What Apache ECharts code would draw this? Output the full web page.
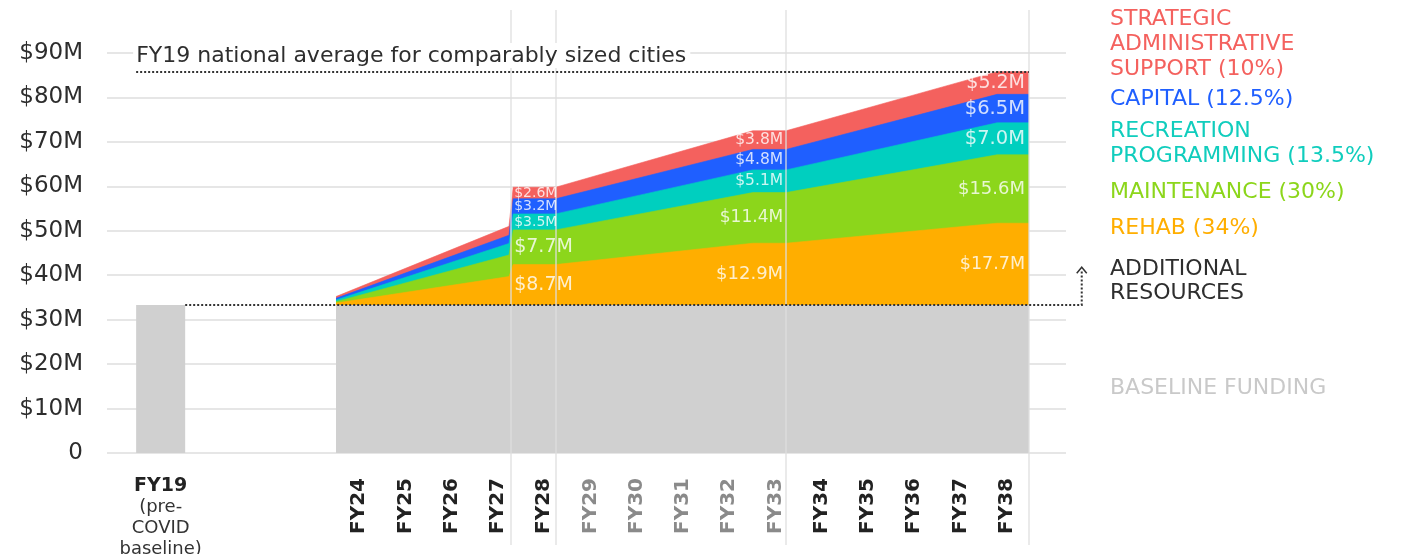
<!DOCTYPE html>
<html><head><meta charset="utf-8">
<script src="https://cdn.jsdelivr.net/npm/echarts@6/dist/echarts.min.js"></script>
<style>html,body{margin:0;padding:0;background:#fff}#c{width:1402px;height:554px}</style>
</head><body><div id="c"></div>
<script>
// ---------- DATA ----------
// vertex positions on the fiscal-year scale
const xPoints     = [23.5, 27.24, 27.33, 28.25, 32.51, 33.23, 37.79, 38.48];
const baseline    = [33.3, 33.3, 33.3, 33.3, 33.3, 33.3, 33.3, 33.3];
const rehab       = [0.45, 6.4, 9.1, 9.1, 13.9, 13.9, 18.4, 18.4];
const maintenance = [0.3, 4.85, 7.8, 7.8, 11.4, 11.4, 15.4, 15.4];
const recreation  = [0.35, 2.6, 3.6, 3.6, 5.1, 5.1, 7.2, 7.2];
const capital     = [0.4, 1.85, 3.4, 3.4, 4.6, 4.6, 6.4, 6.4];
const strategic   = [0.4, 2.0, 2.6, 2.6, 4.2, 4.2, 5.1, 5.1];

const fy19X = [19.18, 20.24];
const fy19Value = 33.3;
const fy19Label = ['FY19', '(pre-', 'COVID', 'baseline)'];
const nationalAverage = 85.7;
const nationalAverageRange = [19.18, 38.48];
const nationalAverageText = 'FY19 national average for comparably sized cities';
const dividerX = [27.28, 28.25, 33.23, 38.48];

const fyLabels = ['FY24','FY25','FY26','FY27','FY28','FY29','FY30','FY31','FY32','FY33','FY34','FY35','FY36','FY37','FY38'];
const fyGrey = ['FY29','FY30','FY31','FY32','FY33'];
const yTickLabels = ['0','$10M','$20M','$30M','$40M','$50M','$60M','$70M','$80M','$90M'];

// value labels (bottom to top: rehab, maintenance, recreation, capital, strategic)
const labelsFY28 = [8.7, 7.7, 3.5, 3.2, 2.6];
const labelsFY33 = [12.9, 11.4, 5.1, 4.8, 3.8];
const labelsFY38 = [17.7, 15.6, 7.0, 6.5, 5.2];

const legendItems = [
  'STRATEGIC\nADMINISTRATIVE\nSUPPORT (10%)',
  'CAPITAL (12.5%)',
  'RECREATION\nPROGRAMMING (13.5%)',
  'MAINTENANCE (30%)',
  'REHAB (34%)',
  'ADDITIONAL\nRESOURCES',
  'BASELINE FUNDING'
];

// ---------- STYLE ----------
const FONT = '"DejaVu Sans", sans-serif';
const layers = [rehab, maintenance, recreation, capital, strategic];
const layerNames = ['Rehab','Maintenance','Recreation programming','Capital','Strategic administrative support'];
const layerColors = ['#ffae00','#8cd61b','#00cfbf','#1f5fff','#f4615e'];
const grey = '#d0d0d0';
const legendColors = ['#f4615e','#1f5fff','#10cdbd','#8cd61b','#ffae00','#2e2e2e','#c9c9c9'];
const legendTops = [7, 87, 119, 180, 216, 257, 376];
const X_MIN = 18.55, X_MAX = 39.28;

// cumulative stacks
const cum = [];
layers.forEach((arr, k) => {
  cum.push(arr.map((v, i) => (k === 0 ? baseline[i] : cum[k-1][i]) + v));
});
const pts = arr => xPoints.map((x, i) => [x, arr[i]]);
function bandMid(i, k) { const lo = k === 0 ? baseline[i] : cum[k-1][i]; return (lo + cum[k][i]) / 2; }

const chart = echarts.init(document.getElementById('c'), null, {renderer: 'canvas'});

const series = [];
// areas painted from the tallest cumulative band down, filled down to the baseline level
for (let k = layers.length - 1; k >= 0; k--) {
  series.push({type: 'line', name: layerNames[k], data: pts(cum[k]), symbol: 'none',
    lineStyle: {width: 0.6, color: layerColors[k]}, areaStyle: {color: layerColors[k], opacity: 1, origin: baseline[0]},
    z: 2, silent: true, animation: false});
}
series.push({type: 'line', name: 'Baseline funding', data: pts(baseline), symbol: 'none',
  lineStyle: {width: 0}, areaStyle: {color: grey, opacity: 1}, z: 2, silent: true, animation: false});
series.push({type: 'line', name: 'FY19', data: fy19X.map(x => [x, fy19Value]), symbol: 'none',
  lineStyle: {width: 0}, areaStyle: {color: grey, opacity: 1}, z: 2, silent: true, animation: false});

// column dividers (taller grid)
series.push({type: 'line', xAxisIndex: 2, yAxisIndex: 1, data: [], z: 3, silent: true, animation: false,
  markLine: {silent: true, symbol: ['none','none'], label: {show: false}, animation: false,
    lineStyle: {color: 'rgba(222,222,222,0.85)', width: 1.5, type: 'solid'},
    data: dividerX.map(x => ({xAxis: x}))}});

// national average
series.push({type: 'line', data: [], z: 5, silent: true, animation: false,
  markLine: {silent: true, symbol: ['none','none'], animation: false,
    lineStyle: {color: '#333', width: 2, type: [2, 2]},
    label: {show: true, position: 'insideStartTop', formatter: nationalAverageText, color: '#2e2e2e',
      fontFamily: FONT, fontSize: 22, backgroundColor: '#fff', padding: [2, 4, 1, 3], distance: [-3, 4]},
    data: [[{coord: [nationalAverageRange[0], nationalAverage]}, {coord: [nationalAverageRange[1], nationalAverage]}]]}});

// value labels
const labelColumns = [
  {idx: 2, values: labelsFY28, pos: 'right', dist: 1, sizes: [19, 19, 14, 14, 14]},
  {idx: 5, values: labelsFY33, pos: 'left', dist: 3, sizes: [18, 17, 15.5, 15.5, 15.5]},
  {idx: 7, values: labelsFY38, pos: 'left', dist: 4, sizes: [17.5, 18, 19.5, 19.5, 19]}
];
labelColumns.forEach(col => {
  series.push({type: 'scatter', symbolSize: 0, z: 6, silent: true, animation: false,
    data: col.values.map((v, k) => ({value: [xPoints[col.idx], bandMid(col.idx, k)], name: '$' + v.toFixed(1) + 'M',
      label: {fontSize: col.sizes[k]}})),
    label: {show: true, position: col.pos, distance: col.dist, formatter: '{b}', color: '#fff', fontFamily: FONT}});
});

const legendGraphics = legendItems.map((t, i) => ({
  type: 'text', id: 'lg' + i, left: 1110, top: legendTops[i], z: 10,
  style: {text: t, fill: legendColors[i], font: '22px ' + FONT, lineHeight: i === 5 ? 24 : 25}
}));

chart.setOption({
  animation: false,
  backgroundColor: '#fff',
  grid: [
    {left: 107, right: 336, top: 53, bottom: 101, outerBoundsMode: 'none', containLabel: false},
    {left: 107, right: 336, top: 10, bottom: 9, outerBoundsMode: 'none', containLabel: false}
  ],
  xAxis: [
    {type: 'value', gridIndex: 0, min: X_MIN, max: X_MAX, splitLine: {show: false}, axisLine: {show: false}, axisTick: {show: false},
      axisLabel: {customValues: fyLabels.map(s => parseInt(s.slice(2), 10)), rotate: 90, margin: 25,
        formatter: v => { const s = 'FY' + v; return (fyGrey.indexOf(s) >= 0 ? '{g|' : '{d|') + s + '}'; },
        rich: {d: {color: '#222', fontWeight: 'bold', fontSize: 20, fontFamily: FONT},
               g: {color: '#8a8a8a', fontWeight: 'bold', fontSize: 20, fontFamily: FONT}}}},
    {type: 'value', gridIndex: 0, position: 'bottom', min: X_MIN, max: X_MAX, splitLine: {show: false}, axisLine: {show: false}, axisTick: {show: false},
      axisLabel: {customValues: [(fy19X[0] + fy19X[1]) / 2], margin: 22,
        formatter: () => fy19Label.map((s, i) => (i === 0 ? '{b|' : '{n|') + s + '}').join('\n'),
        rich: {b: {fontWeight: 'bold', fontSize: 19, color: '#222', lineHeight: 22, fontFamily: FONT},
               n: {fontSize: 18, color: '#333', lineHeight: 21, fontFamily: FONT}}}},
    {type: 'value', gridIndex: 1, min: X_MIN, max: X_MAX, show: false}
  ],
  yAxis: [
    {type: 'value', gridIndex: 0, min: 0, max: 90, interval: 10, axisLine: {show: false}, axisTick: {show: false},
      splitLine: {lineStyle: {color: '#dedede', width: 1.5}},
      axisLabel: {margin: 24, color: '#2d2d2d', fontSize: 23, fontFamily: FONT, formatter: v => yTickLabels[Math.round(v / 10)]}},
    {type: 'value', gridIndex: 1, min: 0, max: 1, show: false}
  ],
  series: series,
  graphic: legendGraphics
});

// "additional resources" bracket arrow, positioned through the axes
const ARROW_X = 39.62, ARROW_TOP = 41.8;
const px = (x, y) => chart.convertToPixel({xAxisIndex: 0, yAxisIndex: 0}, [x, y]);
const a0 = px(fy19X[1], fy19Value), a1 = px(ARROW_X, fy19Value), a2 = px(ARROW_X, ARROW_TOP);
chart.setOption({graphic: [
  {type: 'polyline', id: 'arrowLine', z: 20, silent: true,
    shape: {points: [a0, a1, [a2[0], a2[1] + 4]]},
    style: {stroke: '#333', lineWidth: 2, lineDash: [2, 2], fill: null}},
  {type: 'polyline', id: 'arrowHead', z: 20, silent: true,
    shape: {points: [[a2[0] - 5, a2[1] + 6], a2, [a2[0] + 5, a2[1] + 6]]},
    style: {stroke: '#333', lineWidth: 1.5, fill: null}}
]});
</script>
</body></html>
